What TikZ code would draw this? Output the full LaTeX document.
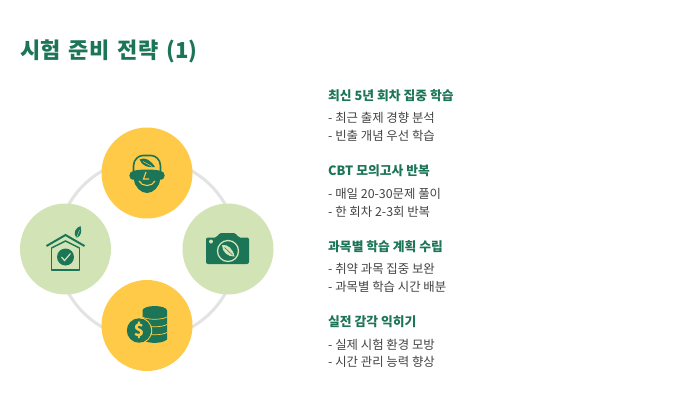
\documentclass[tikz,border=0pt]{standalone}
\usepackage{fontspec}
\setmainfont[WordSpace=1]{Noto Sans CJK KR}
\newfontfamily\titlefam[WordSpace=1.65]{Noto Sans CJK KR}
\definecolor{ggreen}{HTML}{1C7557}
\definecolor{gyellow}{HTML}{FFCA47}
\definecolor{glight}{HTML}{D2E4B6}
\definecolor{gring}{HTML}{E3E3E3}
\definecolor{gtext}{HTML}{444444}
\tikzset{
  disc/.style={circle,minimum size=91pt,inner sep=0pt,draw=none},
  ydisc/.style={disc,fill=gyellow},
  ldisc/.style={disc,fill=glight},
  ttl/.style={anchor=base west,inner sep=0pt,text=ggreen,font=\titlefam\fontsize{22}{24}\selectfont\bfseries},
  hd/.style={anchor=base west,inner sep=0pt,text=ggreen,font=\fontsize{12.8}{14}\selectfont\bfseries},
  bd/.style={anchor=base west,inner sep=0pt,text=gtext,font=\fontsize{12.4}{14}\selectfont},
}
\begin{document}
\begin{tikzpicture}[x=1pt,y=-1pt]
\useasboundingbox (0,0) rectangle (684,408);
\fill[white] (0,0) rectangle (684,408);
\coordinate (ringc) at (147,249);
\draw[gring,line width=3pt] (ringc) circle[radius=90];
\node[ydisc] (top) at (147,173) {};
\node[ldisc] (left) at (65.5,249) {};
\node[ldisc] (right) at (228,249) {};
\node[ydisc] (bottom) at (147,325.5) {};
% head icon
\begin{scope}[shift={(top.center)}]
  \draw[ggreen,line width=1.6pt] (-13.5,0) -- (-13.5,-7) .. controls (-13.5,-14) and (-8,-17.5) .. (-4,-17.5) -- (4,-17.5) .. controls (8,-17.5) and (13.5,-14) .. (13.5,-7) -- (13.5,0);
  \fill[ggreen] (-7.5,-13.5) .. controls (-2,-16.5) and (4,-12.5) .. (8,-6) .. controls (1,-5) and (-5,-7) .. (-7.5,-13.5) -- cycle;
  \draw[gyellow,line width=.5pt] (-4,-11.5) -- (5,-6.5);
  \fill[ggreen] (-14,-2) .. controls (-8,-4) and (8,-4) .. (14,-2) -- (13,6.5) .. controls (12.5,14) and (6,20) .. (0,20) .. controls (-6,20) and (-12.5,14) .. (-13,6.5) -- cycle;
  \fill[ggreen] (-14,2.5) ellipse[x radius=3.6,y radius=4.3];
  \fill[ggreen] (14,2.5) ellipse[x radius=3.6,y radius=4.3];
  \draw[gyellow,line width=1.1pt] (-1,-1) -- (-3.5,6) -- (2,6);
  \draw[gyellow,line width=1.1pt] (-8,8) .. controls (-5,14) and (5,14) .. (8,8);
\end{scope}
% house icon
\begin{scope}[shift={(left.center)}]
  \draw[ggreen,line width=2pt] (-19,-3) -- (0,-14) -- (19,-3);
  \draw[ggreen,line width=1.4pt,line join=round] (-14,-1) -- (-14,21) -- (14,21) -- (14,-1);
  \draw[ggreen,line width=1.4pt] (-14,-1) -- (0,-8) -- (14,-1);
  \fill[ggreen] (0,8) circle[radius=8.5];
  \draw[glight,line width=1.2pt] (-4,8) -- (-1,11.5) -- (5,4.5);
  \fill[ggreen] (11,-11) .. controls (7,-16) and (10,-21) .. (15,-23) .. controls (16.5,-18) and (16,-13) .. (11,-11) -- cycle;
  \draw[glight,line width=.4pt] (11,-11) -- (14,-19);
\end{scope}
% camera icon
\begin{scope}[shift={(right.center)}]
  \fill[ggreen,rounded corners=2pt] (-22,-11.5) -- (-11,-11.5) -- (-9,-16) -- (8,-16) -- (10,-11.5) -- (21,-11.5) -- (21,15) -- (-22,15) -- cycle;
  \fill[glight] (-17,-7.5) circle[radius=2];
  \draw[glight,line width=1.3pt] (0,2) circle[radius=10.5];
  \fill[glight] (-6,-4) .. controls (0,-5) and (5,0) .. (6.5,7.5) .. controls (0,8) and (-6,3) .. (-6,-4) -- cycle;
  \draw[ggreen,line width=.5pt] (-3.5,-1.5) -- (4.5,6);
\end{scope}
% coins icon
\begin{scope}[shift={(bottom.center)}]
  \fill[ggreen] (-4.5,-15) -- (-4.5,14) .. controls (0,18.5) and (15,18.5) .. (20,14) -- (20,-15) -- cycle;
  \fill[ggreen] (7.75,-15) ellipse[x radius=12.25,y radius=4.5];
  \foreach \yy in {-8.5,-1,7}
    \draw[gyellow,line width=.7pt] (-4.5,\yy) .. controls (0,\yy+3) and (15,\yy+3) .. (20,\yy);
  \fill[gyellow] (-8,5) circle[radius=13.2];
  \fill[ggreen] (-8,5) circle[radius=12.2];
  \node[inner sep=0pt,text=gyellow,font=\fontsize{17}{17}\selectfont\bfseries] (dollar) at (-8,5) {\$};
\end{scope}
\node[ttl] (title) at (20,58) {시험 준비 전략 (1)};
\node[hd] (h1) at (328,100.5) {최신 5년 회차 집중 학습};
\node[bd] (a1) at (328,122.5) {- 최근 출제 경향 분석};
\node[bd] (a2) at (328,140.5) {- 빈출 개념 우선 학습};
\node[hd] (h2) at (328,175.5) {CBT 모의고사 반복};
\node[bd] (b1) at (328,198) {- 매일 20-30문제 풀이};
\node[bd] (b2) at (328,216) {- 한 회차 2-3회 반복};
\node[hd] (h3) at (328,251.5) {과목별 학습 계획 수립};
\node[bd] (c1) at (328,273.5) {- 취약 과목 집중 보완};
\node[bd] (c2) at (328,291.5) {- 과목별 학습 시간 배분};
\node[hd] (h4) at (328,326.5) {실전 감각 익히기};
\node[bd] (d1) at (328,349) {- 실제 시험 환경 모방};
\node[bd] (d2) at (328,366.5) {- 시간 관리 능력 향상};
\end{tikzpicture}
\end{document}
